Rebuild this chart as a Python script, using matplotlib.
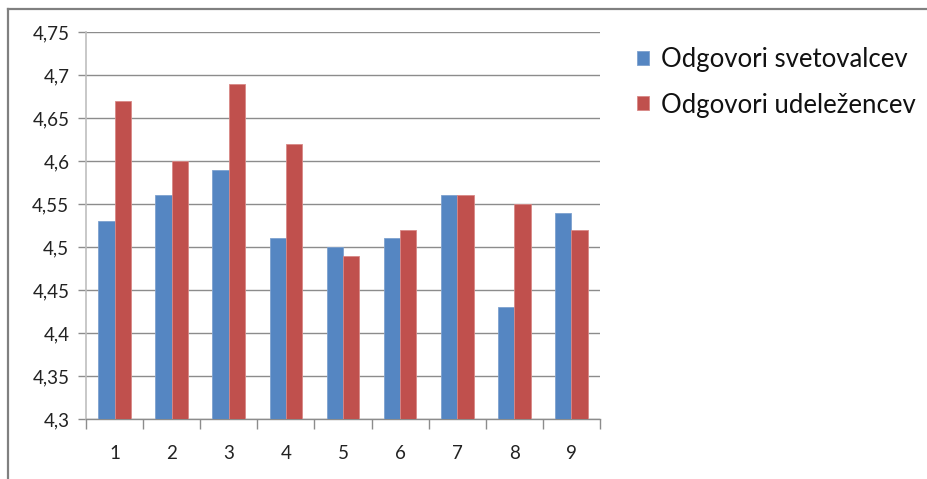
import matplotlib
matplotlib.use("Agg")
import matplotlib.pyplot as plt
from matplotlib.lines import Line2D
import numpy as np

categories = ["1", "2", "3", "4", "5", "6", "7", "8", "9"]
svetovalci = [4.53, 4.56, 4.59, 4.51, 4.50, 4.51, 4.56, 4.43, 4.54]
udelezenci = [4.67, 4.60, 4.69, 4.62, 4.49, 4.52, 4.56, 4.55, 4.52]
series_names = ["Odgovori svetovalcev", "Odgovori udeležencev"]
y_ticks = [4.3, 4.35, 4.4, 4.45, 4.5, 4.55, 4.6, 4.65, 4.7, 4.75]

plt.rcParams['font.family'] = ['Lato', 'DejaVu Sans']

W, H = 927, 479
fig = plt.figure(figsize=(W / 100, H / 100), dpi=100)
ax = fig.add_axes([86 / W, 1 - 419 / H, (600 - 86) / W, (419 - 32) / H])

x = np.arange(len(categories))
bw = 1 / 3.5
blue = "#5586C2"
red = "#C0504D"
ax.bar(x - bw / 2, np.array(svetovalci) - 4.3, bw, bottom=4.3, color=blue,
       edgecolor="#7DA1CF", linewidth=0.6, label=series_names[0], zorder=3)
ax.bar(x + bw / 2, np.array(udelezenci) - 4.3, bw, bottom=4.3, color=red,
       edgecolor="#D98886", linewidth=0.6, label=series_names[1], zorder=3)

ax.set_xlim(-0.5, len(categories) - 0.5)
ax.set_ylim(4.3, 4.75)
ax.set_yticks(y_ticks)
ax.set_yticklabels([f"{v:g}".replace(".", ",") for v in y_ticks], fontsize=13.5, color="#222222")
ax.yaxis.grid(True, color="#8C8C8C", linewidth=1.0, zorder=0)
ax.tick_params(axis="y", length=6, width=1.0, color="#8C8C8C", pad=6)

ax.set_xticks(x)
ax.set_xticklabels(categories, fontsize=13.5, color="#222222")
ax.set_xticks(np.arange(-0.5, len(categories)), minor=True)
ax.tick_params(axis="x", which="major", length=0, pad=19)
ax.tick_params(axis="x", which="minor", length=7, width=1.0, color="#8C8C8C")

for s in ["top", "right"]:
    ax.spines[s].set_visible(False)
ax.spines["left"].set_color("#BFBFBF")
ax.spines["left"].set_linewidth(1.2)
ax.spines["bottom"].set_color("#8C8C8C")
ax.spines["bottom"].set_linewidth(1.0)

leg = fig.legend(loc="upper left", bbox_to_anchor=(637 / W, 1 - 47 / H),
                 frameon=False, fontsize=18.5, handlelength=0.45, handleheight=0.45,
                 handletextpad=0.47, labelspacing=0.8, borderpad=0, borderaxespad=0)
for t in leg.get_texts():
    t.set_color("#111111")

# outer frame of the chart area
fig.add_artist(Line2D([8 / W, 8 / W], [0, 1 - 9 / H], transform=fig.transFigure,
                      color="#808080", linewidth=1.6))
fig.add_artist(Line2D([8 / W, 1], [1 - 9 / H, 1 - 9 / H], transform=fig.transFigure,
                      color="#808080", linewidth=1.6))

fig.savefig("out.png", dpi=100)
